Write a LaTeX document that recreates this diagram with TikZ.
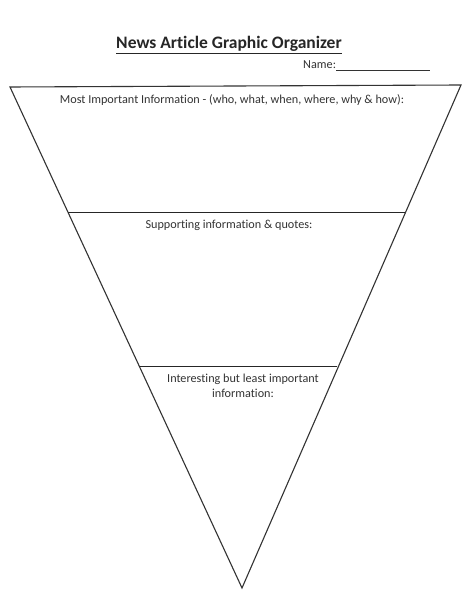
\documentclass[tikz,border=0pt]{standalone}
\usepackage{fontspec}
\setmainfont{Carlito}[Ligatures=NoCommon]
\begin{document}
\begin{tikzpicture}[x=1pt,y=-1pt,
  edge/.style={draw=black!80,line width=1.1pt,line join=miter},
  divider/.style={draw=black!85,line width=1.6pt},
  lbl/.style={text=black!80,font=\fontsize{12.2}{15}\selectfont,inner sep=0pt,align=center}]
\useasboundingbox[fill=white] (0,0) rectangle (474,612);
\coordinate (tl) at (10,87);
\coordinate (tr) at (461,85);
\coordinate (ap) at (242,588);
\draw[edge] (tl) -- (tr) -- (ap) -- cycle;
\coordinate (d1l) at (68,212.5);
\coordinate (d1r) at (405,212.5);
\coordinate (d2l) at (139,366.5);
\coordinate (d2r) at (337,366.5);
\draw[divider] (d1l) -- (d1r);
\draw[divider] (d2l) -- (d2r);
\node[font=\bfseries\fontsize{17.5}{20}\selectfont,inner sep=0pt,text=black!85] (title) at (229,45) {\underline{News Article Graphic Organizer}};
\node[lbl,anchor=west] (name) at (303,66) {Name:\underline{\hspace{94pt}}};
\node[lbl] (most) at (232,100) {Most Important Information - (who, what, when, where, why \& how):};
\node[lbl] (supp) at (229,225) {Supporting information \& quotes:};
\node[lbl,anchor=north] (int) at (243,374) {Interesting but least important\\information:};
\end{tikzpicture}
\end{document}
